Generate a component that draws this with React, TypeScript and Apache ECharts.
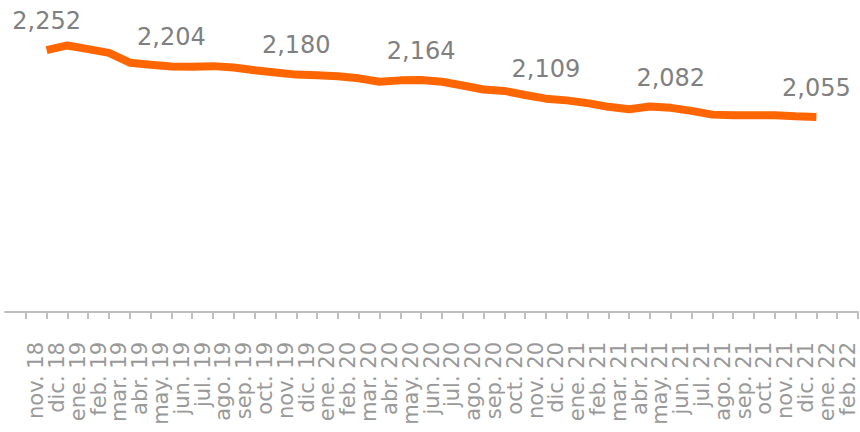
import React, { useEffect, useRef } from "react";
import * as echarts from "echarts";

const months = [
  "nov. 18", "dic. 18", "ene. 19", "feb. 19", "mar. 19", "abr. 19", "may. 19", "jun. 19",
  "jul. 19", "ago. 19", "sep. 19", "oct. 19", "nov. 19", "dic. 19", "ene. 20", "feb. 20",
  "mar. 20", "abr. 20", "may. 20", "jun. 20", "jul. 20", "ago. 20", "sep. 20", "oct. 20",
  "nov. 20", "dic. 20", "ene. 21", "feb. 21", "mar. 21", "abr. 21", "may. 21", "jun. 21",
  "jul. 21", "ago. 21", "sep. 21", "oct. 21", "nov. 21", "dic. 21", "ene. 22", "feb. 22",
];

// Values for nov. 18 .. dic. 21 (drawn at the right edge of each month's band)
const lineValues = [
  2252, 2266, 2255, 2244, 2215, 2209, 2204, 2203, 2205, 2201,
  2193, 2186, 2180, 2178, 2175, 2169, 2159, 2163, 2164, 2159,
  2148, 2136, 2132, 2120, 2109, 2104, 2096, 2085, 2078, 2086,
  2082, 2073, 2062, 2060, 2060, 2060, 2057, 2055,
];

const labelledIndices = [0, 6, 12, 18, 24, 30, 37];

export default function App() {
  const ref = useRef<HTMLDivElement>(null);

  useEffect(() => {
    if (!ref.current) return;
    const chart = echarts.init(ref.current, null, { renderer: "svg" });

    const axisSlots = ["", ...months];
    const lineSlots = ["", "", ...months];
    const lineData: any[] = [null, null];
    lineValues.forEach((v, i) => {
      lineData.push(
        labelledIndices.includes(i)
          ? { value: v, label: { show: true } }
          : v
      );
    });

    chart.setOption({
      animation: false,
      grid: { left: 5, right: 2, top: 0, bottom: 120, containLabel: false },
      xAxis: [
        {
          type: "category",
          data: axisSlots,
          boundaryGap: true,
          axisLine: { show: true, lineStyle: { color: "#bfbfbf", width: 2 } },
          axisTick: {
            show: true,
            length: 7,
            interval: (idx: number) => idx > 0,
            lineStyle: { color: "#bfbfbf", width: 2 },
          },
          axisLabel: {
            interval: 0,
            rotate: 90,
            margin: 30,
            color: "#999999",
            fontFamily: "DejaVu Sans",
            fontSize: 21,
          },
          splitLine: { show: false },
        },
        {
          type: "category",
          data: lineSlots,
          boundaryGap: false,
          show: false,
        },
      ],
      yAxis: {
        type: "value",
        min: 1480,
        max: 2400,
        show: false,
        splitLine: { show: false },
      },
      series: [
        {
          type: "line",
          xAxisIndex: 1,
          data: lineData,
          symbol: "circle",
          symbolSize: 1,
          showSymbol: true,
          itemStyle: { color: "rgba(255,102,0,0)" },
          lineStyle: { color: "#ff6600", width: 8 },
          label: {
            show: false,
            position: "top",
            distance: 17,
            color: "#808080",
            fontFamily: "DejaVu Sans",
            fontSize: 24,
            formatter: (p: any) => Number(p.value).toLocaleString("en-US"),
          },
        },
      ],
    });

    return () => chart.dispose();
  }, []);

  return (
    <div
      ref={ref}
      style={{ position: "fixed", left: 0, top: 0, width: 860, height: 432, background: "#ffffff" }}
    />
  );
}
